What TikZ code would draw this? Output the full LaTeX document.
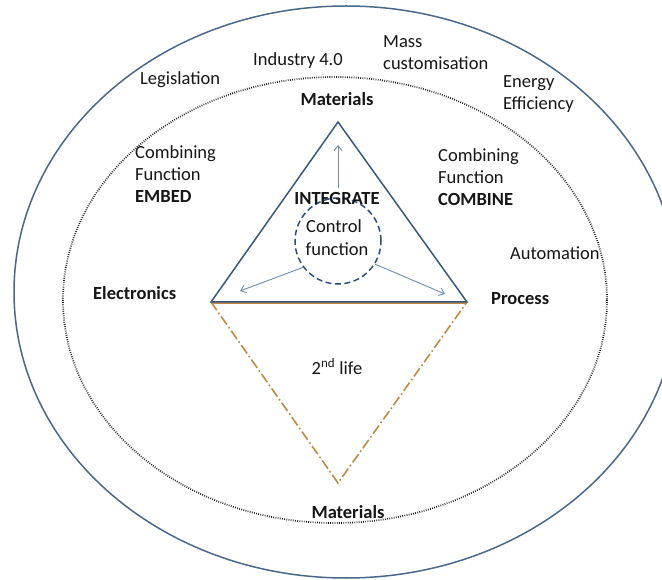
\documentclass[tikz,border=0pt]{standalone}
\usepackage{fontspec}
\setmainfont{Carlito}
\usetikzlibrary{arrows.meta}
\definecolor{outerc}{RGB}{74,104,138}
\definecolor{tric}{RGB}{58,88,126}
\definecolor{circc}{RGB}{48,78,122}
\definecolor{arrc}{RGB}{112,142,178}
\definecolor{orc}{RGB}{190,138,70}
\definecolor{txt}{RGB}{22,22,22}
\begin{document}
\begin{tikzpicture}[x=1pt,y=-1pt,
  lbl/.style={inner sep=0pt, text=txt, align=left, font=\fontsize{18.5}{22}\selectfont},
  blbl/.style={lbl, font=\fontsize{18.5}{22}\selectfont\bfseries},
  outerline/.style={draw=outerc, line width=1.5pt},
  dotline/.style={draw=black!90, line width=1.7pt, dash pattern=on 0.8pt off 1.4pt},
  triline/.style={draw=tric, line width=1.5pt, line join=miter},
  dashdotline/.style={draw=orc, line width=1.6pt, dash pattern=on 10pt off 3pt on 1.6pt off 3pt},
  ctrlcircle/.style={circle, draw=circc, line width=1.5pt, dash pattern=on 6pt off 3.5pt, minimum size=86pt, inner sep=0pt},
  thinarrow/.style={draw=arrc, line width=0.9pt, -{Straight Barb[length=5pt,width=8pt]}}
]
\useasboundingbox (0,0) rectangle (662,580);
\fill[white] (0,0) rectangle (662,580);
\begin{scope}
  \clip (0,0) rectangle (662,580);
  \draw[outerline] (346,292) ellipse [x radius=332, y radius=286];
\end{scope}
\draw[dotline] (335,300) ellipse [x radius=272, y radius=223];

% triangle vertices
\coordinate (apex) at (338,122);
\coordinate (L) at (211,302);
\coordinate (R) at (467,302);
\coordinate (B) at (338,483);

% lower (2nd life) triangle
\draw[dashdotline] (L) -- (B) -- (R);
% base: orange under blue
\draw[draw=orc, line width=2pt, transform canvas={yshift=-1.4pt}] (L) -- (R);
\draw[triline] (L) -- (apex) -- (R) -- cycle;

% control circle
\node[ctrlcircle] (ctrl) at (338,241) {};
\coordinate (upend) at (338,145);
\coordinate (leftend) at (240,291);
\coordinate (rightend) at (445,294);
\draw[thinarrow] (ctrl.north) ++(0,-9) -- (upend);
\draw[thinarrow] (ctrl.217) -- (leftend);
\draw[thinarrow] (ctrl.328) -- (rightend);

% labels
\node[blbl, anchor=base] (integ) at (337,205) {INTEGRATE};
\node[lbl, anchor=base] (controlt) at (334,233) {Control};
\node[lbl, anchor=base] (funct) at (337,256) {function};

\node[blbl, anchor=base] (mattop) at (337,106) {Materials};
\node[blbl, anchor=base] (matbot) at (348,518) {Materials};
\node[blbl, anchor=base west] (elec) at (93,300) {Electronics};
\node[blbl, anchor=base west] (proc) at (491,305) {Process};
\node[lbl, anchor=base] (life) at (337,374) {2\textsuperscript{nd} life};

\node[lbl, anchor=base west] (legis) at (140,85) {Legislation};
\node[lbl, anchor=base west] (indus) at (253,66) {Industry 4.0};
% multi-line nodes: base anchor is the last line's baseline
\node[lbl, anchor=base west] (mass) at (383,70) {Mass\\customisation};
\node[lbl, anchor=base west] (energy) at (503,110) {Energy\\Efficiency};
\node[lbl, anchor=base west] (autom) at (510,260) {Automation};

\node[lbl, anchor=base west] (embed) at (135,203) {Combining\\Function\\\textbf{EMBED}};
\node[lbl, anchor=base west] (combine) at (438,206) {Combining\\Function\\\textbf{COMBINE}};
\end{tikzpicture}
\end{document}
